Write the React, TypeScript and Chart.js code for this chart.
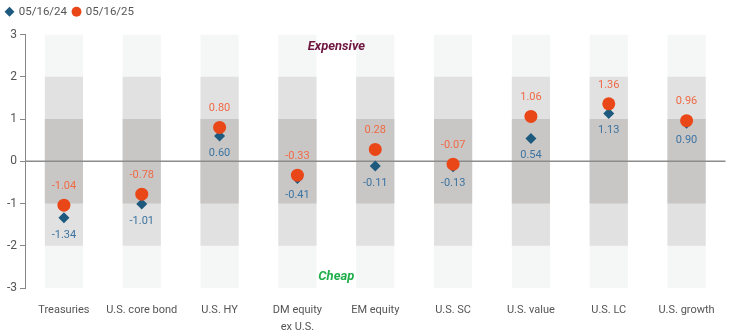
import React, { useEffect, useRef } from "react";
import { Chart, registerables } from "chart.js";

Chart.register(...registerables);

const categories: (string | string[])[] = [
  "Treasuries",
  "U.S. core bond",
  "U.S. HY",
  ["DM equity", "ex U.S."],
  "EM equity",
  "U.S. SC",
  "U.S. value",
  "U.S. LC",
  "U.S. growth",
];
const series2024 = [-1.34, -1.01, 0.6, -0.41, -0.11, -0.13, 0.54, 1.13, 0.9];
const series2025 = [-1.04, -0.78, 0.8, -0.33, 0.28, -0.07, 1.06, 1.36, 0.96];
const yTicks = [-3, -2, -1, 0, 1, 2, 3];
const bandOuter: [number, number] = [-3, 3];
const bandMid: [number, number] = [-2, 2];
const bandInner: [number, number] = [-1, 1];

const FONT = "Roboto, 'Noto Sans', sans-serif";

const overlayPlugin = {
  id: "overlay",
  beforeUpdate(chart: any) {
    const lg = chart.legend;
    if (lg && !lg._patched) {
      const orig = lg.fit.bind(lg);
      lg.fit = function () {
        orig();
        this.height += 7;
      };
      lg._patched = true;
    }
  },
  afterDatasetDraw(chart: any, args: any) {
    if (args.index !== 2) return;
    const { ctx, chartArea, scales } = chart;
    const y = scales.y.getPixelForValue(0);
    ctx.save();
    ctx.strokeStyle = "#8c8c8c";
    ctx.lineWidth = 1.5;
    ctx.beginPath();
    ctx.moveTo(chartArea.left, y);
    ctx.lineTo(chartArea.right, y);
    ctx.stroke();
    ctx.restore();
  },
  afterDatasetsDraw(chart: any) {
    const { ctx, scales } = chart;
    ctx.save();
    ctx.textAlign = "center";
    ctx.textBaseline = "middle";
    ctx.font = `11px ${FONT}`;
    const m25 = chart.getDatasetMeta(1);
    const m24 = chart.getDatasetMeta(0);
    series2025.forEach((v, i) => {
      const el = m25.data[i];
      ctx.fillStyle = "#ef6a45";
      ctx.fillText(v.toFixed(2), el.x, el.y - 19);
    });
    series2024.forEach((v, i) => {
      const el = m24.data[i];
      ctx.fillStyle = "#3d74a0";
      ctx.fillText(v.toFixed(2), el.x, el.y + 17);
    });
    const xm = scales.x.getPixelForValue(3.5);
    ctx.font = `italic bold 13px ${FONT}`;
    ctx.fillStyle = "#6e1740";
    ctx.fillText("Expensive", xm, scales.y.getPixelForValue(2.72));
    ctx.fillStyle = "#1fae4b";
    ctx.fillText("Cheap", xm, scales.y.getPixelForValue(-2.74));
    ctx.restore();
  },
};

export default function App() {
  const ref = useRef<HTMLCanvasElement | null>(null);
  useEffect(() => {
    document.body.style.margin = "0";
    if (!ref.current) return;
    const band = (range: [number, number], color: string, order: number) => ({
      type: "bar" as const,
      label: "band" + order,
      data: categories.map(() => range),
      backgroundColor: color,
      grouped: false,
      order,
      categoryPercentage: 1,
      barPercentage: 0.49,
    });
    const chart = new Chart(ref.current, {
      data: {
        labels: categories,
        datasets: [
          {
            type: "scatter" as const,
            label: "05/16/24",
            data: series2024,
            pointStyle: "rectRot",
            pointRadius: 5.5,
            backgroundColor: "#1d5a7e",
            borderColor: "#1d5a7e",
            borderWidth: 0,
            order: 1,
          } as any,
          {
            type: "scatter" as const,
            label: "05/16/25",
            data: series2025,
            pointStyle: "circle",
            pointRadius: 6.5,
            backgroundColor: "#ea4719",
            borderColor: "#ea4719",
            borderWidth: 0,
            order: 0,
          } as any,
          band(bandInner, "#c9c7c6", 2),
          band(bandMid, "#e1e1e1", 3),
          band(bandOuter, "#f5f6f6", 4),
        ],
      },
      options: {
        animation: false,
        responsive: true,
        maintainAspectRatio: false,
        layout: { padding: { top: 0, right: 2, left: 0, bottom: 0 } },
        plugins: {
          tooltip: { enabled: false },
          legend: {
            display: true,
            position: "top",
            align: "start",
            labels: {
              usePointStyle: true,
              boxWidth: 7,
              boxHeight: 7,
              padding: 6,
              color: "#555",
              font: { family: FONT, size: 11.5 },
              filter: (item: any) => item.datasetIndex < 2,
              sort: (a: any, b: any) => a.datasetIndex - b.datasetIndex,
            },
          },
        },
        scales: {
          x: {
            type: "category",
            offset: true,
            grid: { display: false },
            border: { display: false },
            afterFit: (axis: any) => {
              axis.height = 48;
            },
            ticks: {
              color: "#555",
              font: { family: FONT, size: 11, lineHeight: 1.5 },
              maxRotation: 0,
              autoSkip: false,
              padding: 6,
            },
          },
          y: {
            min: -3,
            max: 3,
            afterFit: (axis: any) => {
              axis.width = 25;
            },
            afterBuildTicks: (axis: any) => {
              axis.ticks = yTicks.map((v) => ({ value: v }));
            },
            grid: {
              display: true,
              drawOnChartArea: false,
              drawTicks: true,
              tickLength: 5,
              color: "#888",
            },
            border: { display: true, color: "#888", width: 1 },
            ticks: {
              color: "#555",
              font: { family: FONT, size: 12 },
              padding: 3,
            },
          },
        },
      },
      plugins: [overlayPlugin],
    } as any);
    return () => chart.destroy();
  }, []);
  return (
    <div style={{ width: 732, height: 336, position: "relative" }}>
      <canvas ref={ref} />
    </div>
  );
}
